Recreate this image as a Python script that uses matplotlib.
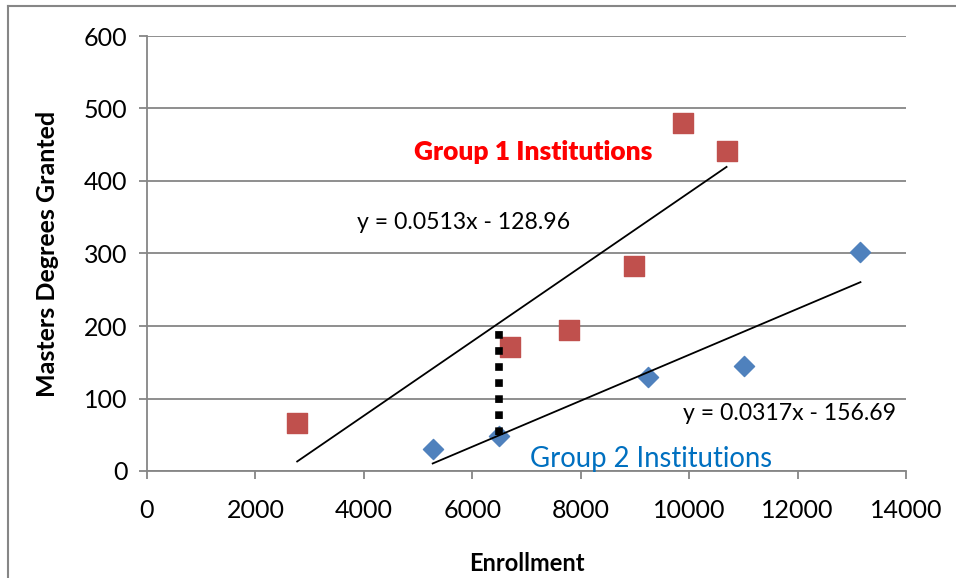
import matplotlib
matplotlib.use("Agg")
import matplotlib.pyplot as plt
import numpy as np

plt.rcParams['font.family'] = ['Lato', 'DejaVu Sans']

# Group 1 (red squares) and Group 2 (blue diamonds)
g1_enroll = [2770, 6690, 7780, 8990, 9880, 10690]
g1_masters = [66, 171, 194, 283, 480, 441]
g2_enroll = [5270, 6490, 9250, 11020, 13160]
g2_masters = [30, 48, 130, 145, 302]

# linear trendlines as reported on the chart
g1_slope, g1_icpt = 0.0513, -128.96
g2_slope, g2_icpt = 0.0317, -156.69
gap_x = 6500

xticks = list(range(0, 14001, 2000))
yticks = list(range(0, 601, 100))

fig = plt.figure(figsize=(9.56, 5.78), dpi=100)
ax = fig.add_axes([147/956, 1-471/578, (906-147)/956, (471-36)/578])

grey = '#868686'
ax.set_xlim(0, 14000)
ax.set_ylim(0, 600)
ax.set_xticks(xticks)
ax.set_yticks(yticks)
ax.yaxis.grid(True, color=grey, linewidth=1.3)
ax.set_axisbelow(True)
for s in ['top', 'right']:
    ax.spines[s].set_visible(False)
for s in ['left', 'bottom']:
    ax.spines[s].set_color(grey)
    ax.spines[s].set_linewidth(1.3)
ax.tick_params(colors=grey, labelcolor='black', length=6, width=1.3,
               labelsize=18, pad=8)
ax.tick_params(axis='x', pad=14)

ax.scatter(g1_enroll, g1_masters, marker='s', s=200, color='#C0504D', zorder=3)
ax.scatter(g2_enroll, g2_masters, marker='D', s=105, color='#4F81BD', zorder=3)

# trendlines across each group's data range
x1 = np.array([min(g1_enroll), max(g1_enroll)])
ax.plot(x1, g1_slope * x1 + g1_icpt, color='black', lw=1.3, zorder=4)
x2 = np.array([min(g2_enroll), max(g2_enroll)])
ax.plot(x2, g2_slope * x2 + g2_icpt, color='black', lw=1.3, zorder=4)

# vertical gap between the two fitted lines
ax.plot([gap_x, gap_x],
        [g2_slope * gap_x + g2_icpt, g1_slope * gap_x + g1_icpt],
        color='black', lw=5.5, linestyle=(0, (1, 1.1)),
        solid_capstyle='butt', dash_capstyle='butt', zorder=5)

ax.text(3870, 343, 'y = 0.0513x - 128.96', fontsize=16.6, va='center')
ax.text(9890, 80, 'y = 0.0317x - 156.69', fontsize=16.6, va='center')
ax.text(4920, 440, 'Group 1 Institutions', fontsize=19, fontweight='heavy',
        color='#FF0000', va='center')
ax.text(7060, 16, 'Group 2 Institutions', fontsize=19.8, color='#0070C0',
        va='center')

ax.set_xlabel('Enrollment', fontsize=17, fontweight='bold', labelpad=22)
ax.set_ylabel('Masters Degrees Granted', fontsize=18, fontweight='bold',
              labelpad=18)

# chart area border (left and top edges)
fig.add_artist(plt.Line2D([8/956, 8/956], [0, 1-6/578], color=grey, lw=1.5))
fig.add_artist(plt.Line2D([8/956, 1], [1-6/578, 1-6/578], color=grey, lw=1.5))

fig.savefig('out.png', dpi=100)
